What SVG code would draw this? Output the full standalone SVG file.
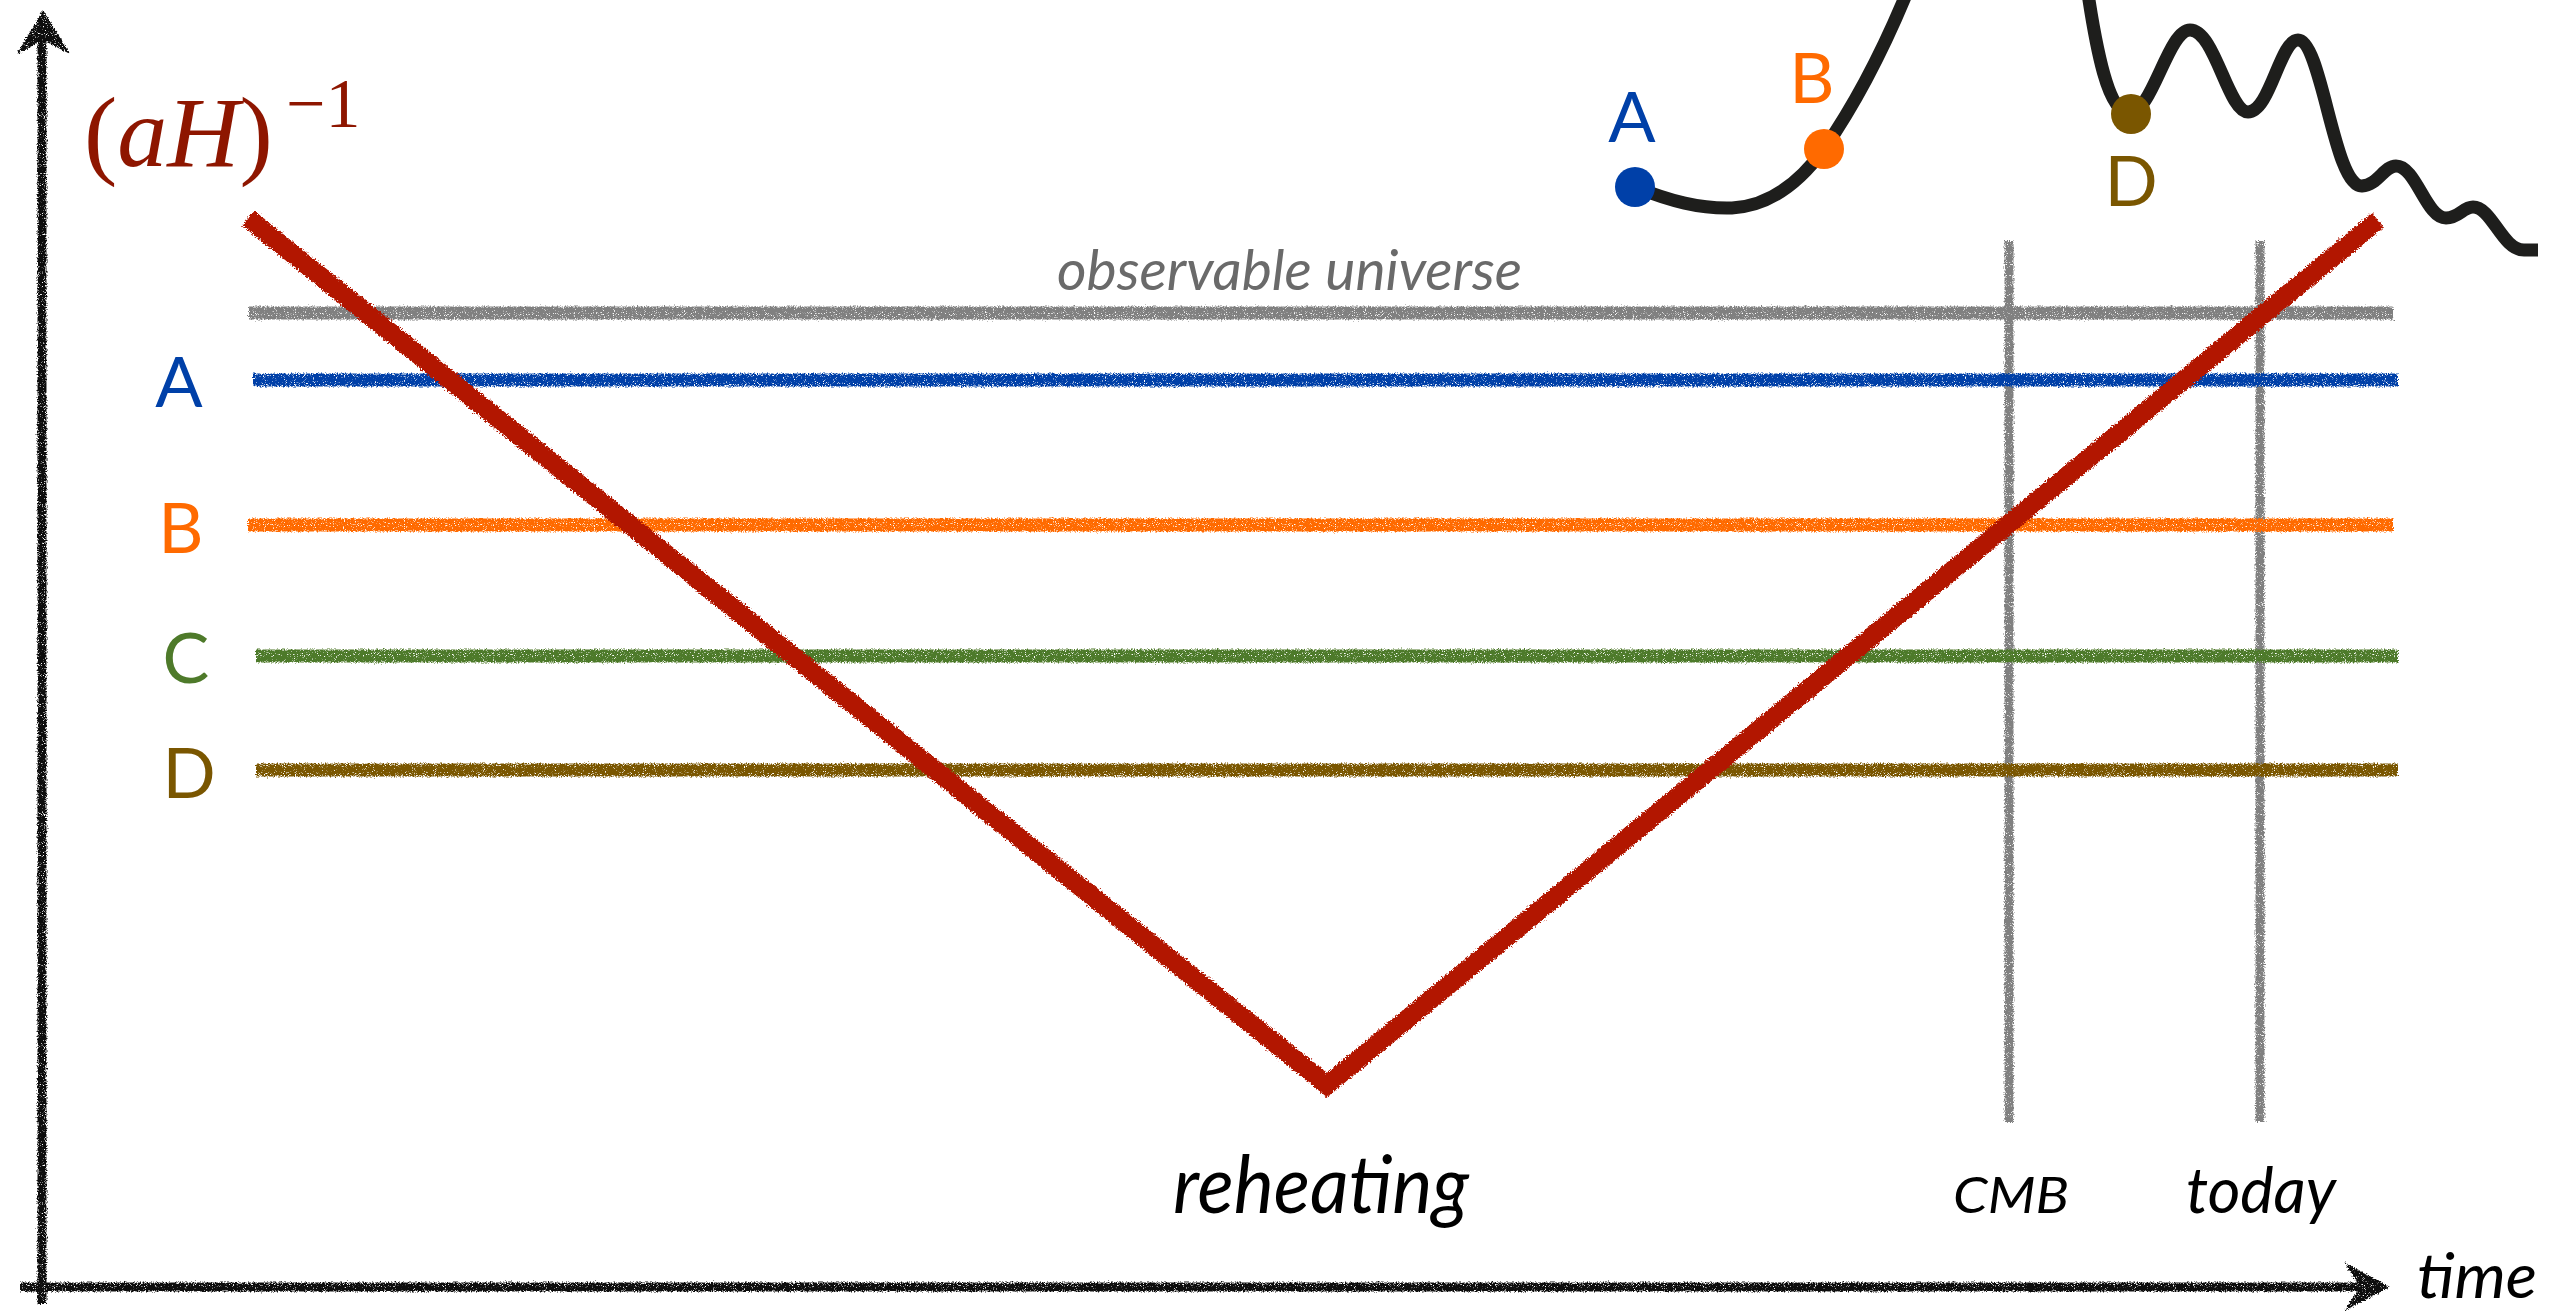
<svg xmlns="http://www.w3.org/2000/svg" width="2564" height="1312" viewBox="0 0 2564 1312">
<defs>
<filter id="chalk" filterUnits="userSpaceOnUse" x="0" y="0" width="2564" height="1312">
<feTurbulence type="fractalNoise" baseFrequency="0.7" numOctaves="2" seed="4" result="n"/>
<feDisplacementMap in="SourceGraphic" in2="n" scale="5" xChannelSelector="R" yChannelSelector="G" result="d"/>
<feTurbulence type="fractalNoise" baseFrequency="1.1" numOctaves="1" seed="11" result="n2"/>
<feColorMatrix in="n2" type="matrix" values="0 0 0 0 0  0 0 0 0 0  0 0 0 0 0  -7 0 0 0 5.2" result="m"/>
<feComposite in="d" in2="m" operator="in"/>
</filter>
<filter id="chalk2" filterUnits="userSpaceOnUse" x="0" y="0" width="2564" height="1312">
<feTurbulence type="fractalNoise" baseFrequency="0.6" numOctaves="2" seed="7" result="n"/>
<feDisplacementMap in="SourceGraphic" in2="n" scale="6" xChannelSelector="R" yChannelSelector="G" result="d"/>
<feTurbulence type="fractalNoise" baseFrequency="1.0" numOctaves="1" seed="13" result="n2"/>
<feColorMatrix in="n2" type="matrix" values="0 0 0 0 0  0 0 0 0 0  0 0 0 0 0  -8 0 0 0 6.2" result="m"/>
<feComposite in="d" in2="m" operator="in"/>
</filter>
<style>
.sans{font-family:Lato,"Open Sans","Liberation Sans",sans-serif}
.it{font-style:italic}
.lbl{font-size:70px;text-anchor:middle}
.h{fill:none;stroke-width:13;stroke-linecap:butt}
.v{fill:none;stroke:#808080;stroke-width:9}
.axis{fill:none;stroke:#111;stroke-width:9}
.curve{fill:none;stroke:#1e1e1c;stroke-width:13;stroke-linecap:butt;stroke-linejoin:round}
</style>
</defs>
<rect width="2564" height="1312" fill="#fff"/>

<g id="axes" filter="url(#chalk)">
<line class="axis" x1="42" y1="1304" x2="42" y2="30"/>
<polygon points="17,54 43,10 70,54 43,40" fill="#111"/>
<line class="axis" x1="20" y1="1287" x2="2370" y2="1287"/>
<polygon points="2344,1262 2390,1287 2344,1311 2360,1287" fill="#111"/>
</g>

<g id="verticals" filter="url(#chalk)">
<line class="v" x1="2009" y1="241" x2="2009" y2="1122"/>
<line class="v" x1="2260" y1="241" x2="2260" y2="1122"/>
</g>

<g id="scales" filter="url(#chalk)">
<line id="line-obs" class="h" x1="249" y1="313" x2="2393" y2="313" stroke="#808080"/>
<line id="line-A" class="h" x1="253" y1="380" x2="2398" y2="380" stroke="#0040a8"/>
<line id="line-B" class="h" x1="248" y1="525" x2="2393" y2="525" stroke="#ff6a00"/>
<line id="line-C" class="h" x1="256" y1="656" x2="2398" y2="656" stroke="#4e7a2a"/>
<line id="line-D" class="h" x1="256" y1="770" x2="2398" y2="770" stroke="#7a5600"/>
</g>

<g id="hubble" filter="url(#chalk2)">
<polyline points="248,218 1327,1085 2378,220" fill="none" stroke="#b21600" stroke-width="19" stroke-linejoin="miter"/>
</g>

<g id="labels-left" class="sans">
<text class="lbl" x="179" y="407" fill="#0040a8">A</text>
<text class="lbl" x="181" y="553" fill="#ff6a00">B</text>
<text class="lbl" x="186" y="683" fill="#4e7a2a">C</text>
<text class="lbl" x="189" y="798" fill="#7a5600">D</text>
</g>

<g id="ylabel" fill="#8e1600" font-family="'Liberation Serif',serif">
<text x="84" y="166" font-size="100">(<tspan font-style="italic">aH</tspan>)</text>
<text x="286" y="127" font-size="70">−1</text>
</g>

<g id="obs-label">
<text class="sans it" x="1057" y="290" font-size="56" fill="#6a6a6a" textLength="465" lengthAdjust="spacingAndGlyphs">observable universe</text>
</g>

<g id="time-labels" class="sans it" fill="#000">
<text x="1173" y="1213" font-size="80" textLength="296" lengthAdjust="spacingAndGlyphs">reheating</text>
<text x="1953" y="1213" font-size="50" textLength="116" lengthAdjust="spacingAndGlyphs">CMB</text>
<text x="2186" y="1213" font-size="64" textLength="150" lengthAdjust="spacingAndGlyphs">today</text>
<text x="2417" y="1298" font-size="62" textLength="120" lengthAdjust="spacingAndGlyphs">time</text>
</g>

<g id="spectrum">
<path class="curve" d="M1635,187 C1670,201 1700,209 1732,208 C1770,206 1800,182 1824,149 C1858,100 1888,40 1912,-20"/>
<path class="curve" d="M2086,-20 C2096,50 2108,112 2129,113 C2152,114 2168,30 2190,30 C2215,30 2228,112 2248,112 C2270,112 2280,40 2298,40 C2322,40 2334,188 2362,186 C2378,185 2384,166 2396,166 C2416,166 2426,218 2446,218 C2459,218 2463,207 2473,207 C2492,207 2502,250 2524,250 L2538,250"/>
<circle cx="1635" cy="187" r="20" fill="#0040a8"/>
<circle cx="1824" cy="149" r="20" fill="#ff6a00"/>
<circle cx="2131" cy="114" r="20" fill="#7a5600"/>
</g>

<g id="labels-top" class="sans">
<text class="lbl" x="1632" y="142" fill="#0040a8">A</text>
<text class="lbl" x="1812" y="103" fill="#ff6a00">B</text>
<text class="lbl" x="2131" y="206" fill="#7a5600">D</text>
</g>
</svg>
